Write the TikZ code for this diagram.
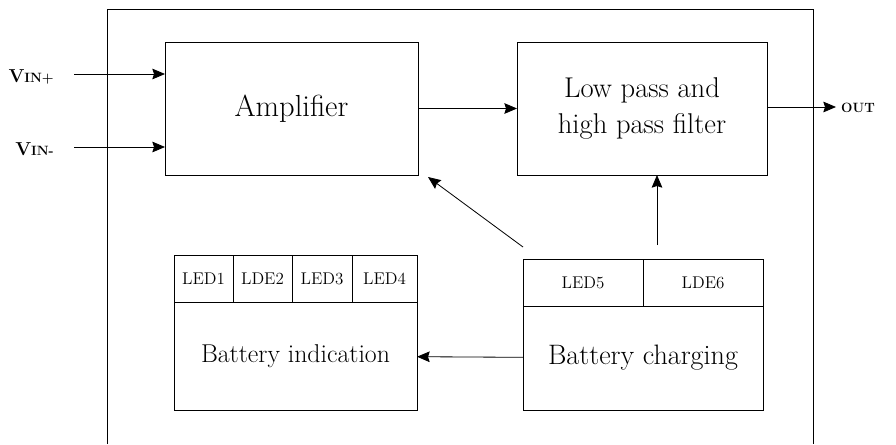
\documentclass[tikz,border=0pt]{standalone}
\usetikzlibrary{arrows.meta,positioning}
\tikzset{
  block/.style={
    rectangle,
    draw=black,
    line width=0.7pt,
    outer sep=0pt,
    align=center,
    font=\fontsize{24}{30}\selectfont,
    minimum height=3.99cm
  },
  ledcell/.style={
    rectangle,
    draw=black,
    line width=0.7pt,
    outer sep=0pt,
    inner sep=0pt,
    font=\fontsize{14.5}{17}\selectfont,
    minimum height=1.41cm
  },
  pinlabel/.style={font=\bfseries\fontsize{16}{19}\selectfont, inner sep=0pt},
  frame/.style={line width=0.8pt, draw=black},
  arrow/.style={-{Stealth[length=3.8mm,width=3.2mm,inset=0.5mm]}, line width=0.7pt, draw=black}
}

\begin{document}
\begin{tikzpicture}[x=0.03cm,y=-0.03cm]
  \useasboundingbox (0,0) rectangle (896,444);
  % outer housing, open at the bottom
  \draw[frame] (107,444) |- (813,9) -- (813,444);

  % signal path
  \node[block, minimum width=7.59cm, font=\fontsize{26}{30}\selectfont] (amp) at (291.5,108.5) {Amplifier};
  \node[block, minimum width=7.5cm, font=\fontsize{24.4}{30}\selectfont, right=2.97cm of amp] (filt) {Low pass and\\high pass filter};

  % battery indication
  \node[ledcell, minimum width=1.77cm] (led1) at (203.5,278.5) {LED1};
  \node[ledcell, minimum width=1.77cm, right=0pt of led1] (led2) {LDE2};
  \node[ledcell, minimum width=1.8cm, right=0pt of led2] (led3) {LED3};
  \node[ledcell, minimum width=1.95cm, right=0pt of led3] (led4) {LED4};
  \node[block, minimum width=7.29cm, minimum height=3.24cm, font=\fontsize{22}{26}\selectfont, anchor=north west] (indbody) at (led1.south west) {Battery indication};

  % battery charging
  \node[ledcell, minimum width=3.6cm, anchor=north west] (led5) at (523,259) {LED5};
  \node[ledcell, minimum width=3.6cm, right=0pt of led5] (led6) {LDE6};
  \node[block, minimum width=7.2cm, minimum height=3.12cm, anchor=north west] (chgbody) at (led5.south west) {Battery charging};

  % inputs and output
  \coordinate (vinp) at (74,74);
  \coordinate (vinm) at (74,147);
  \coordinate (outp) at (836,107);
  \node[pinlabel, anchor=base east] (vinplbl) at (54,82) {V{\fontsize{11.5}{14}\selectfont IN+}};
  \node[pinlabel, anchor=base east] (vinmlbl) at (54,155) {V{\fontsize{11.5}{14}\selectfont IN-}};
  \node[pinlabel, font=\bfseries\fontsize{11.5}{14}\selectfont, anchor=base west] (outlbl) at (841,112) {OUT};

  \coordinate (chgtoamp) at (523,247);
  \coordinate (ampin) at (428,177);
  \coordinate (chgtofilt) at (657,245);

  \draw[arrow] (vinp) -- (vinp -| amp.west);
  \draw[arrow] (vinm) -- (vinm -| amp.west);
  \draw[arrow] (amp) -- (filt);
  \draw[arrow] (filt.east |- outp) -- (outp);
  \draw[arrow] (chgtoamp) -- (ampin);
  \draw[arrow] (chgtofilt) -- (chgtofilt |- filt.south);
  \draw[arrow] (chgbody) -- (indbody);
\end{tikzpicture}
\end{document}
